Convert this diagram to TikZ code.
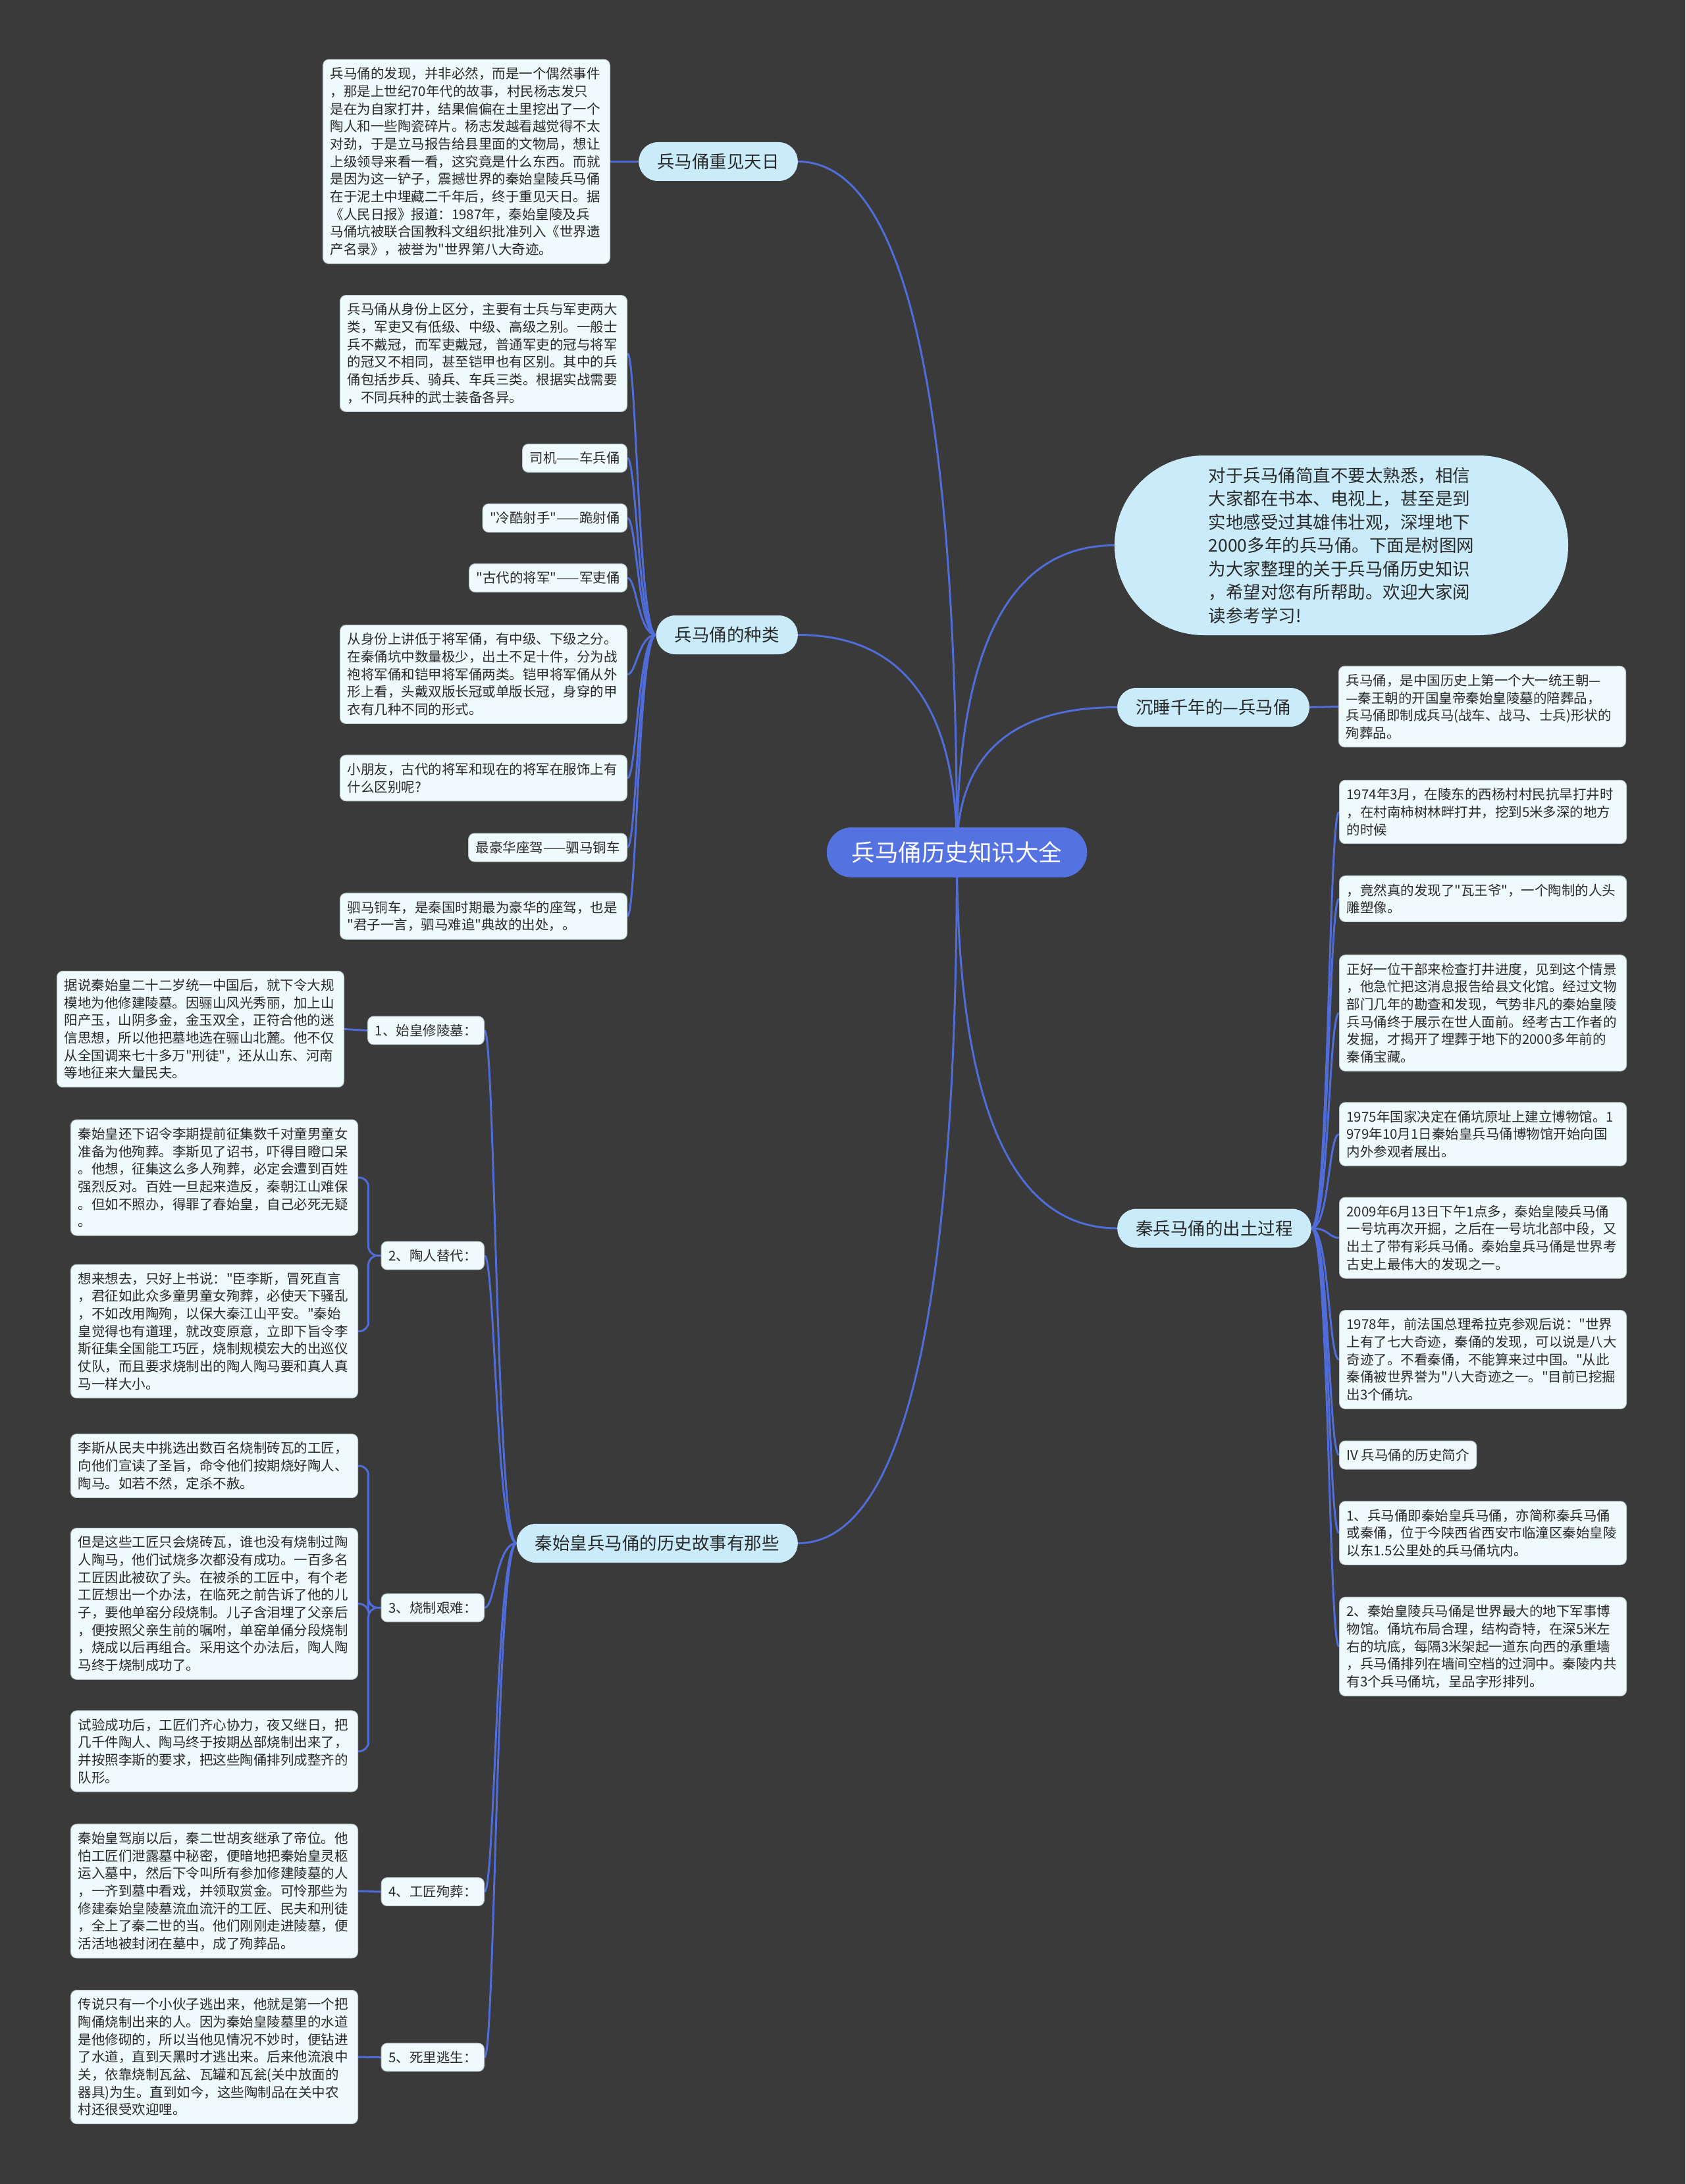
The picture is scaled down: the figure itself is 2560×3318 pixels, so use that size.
\documentclass[tikz,border=0pt]{standalone}
\usepackage{fontspec}
\setmainfont{Noto Sans CJK SC}[Ligatures=TeXOff]
\usetikzlibrary{backgrounds,calc}
\definecolor{bg}{HTML}{3A3A3A}
\definecolor{leaf}{HTML}{EFFAFD}
\definecolor{leafdraw}{HTML}{BCC8CC}
\definecolor{mainfill}{HTML}{C9EBFA}
\definecolor{rootfill}{HTML}{5573E0}
\definecolor{link}{HTML}{4F6CD8}
\definecolor{ink}{HTML}{2A2A2A}
\tikzset{
  leafbox/.style={fill=leaf, draw=leafdraw, line width=1pt, rounded corners=9pt, inner xsep=11pt, inner ysep=12pt, align=left, text=ink, font={\fontsize{20.5}{26.67}\selectfont\parindent=0pt}},
  wideleaf/.style={leafbox, text width=414pt},
  mainbox/.style={fill=mainfill, rounded corners=29pt, inner xsep=28pt, inner ysep=4pt, minimum height=59pt, text=ink, font={\fontsize{26.5}{30}\selectfont}},
  rootbox/.style={fill=rootfill, rounded corners=38pt, inner xsep=38pt, inner ysep=4pt, minimum height=76pt, text=white, font={\fontsize{35.5}{40}\selectfont}},
  bigbox/.style={fill=mainfill, rounded corners=136pt, minimum width=689pt, minimum height=273pt, align=left, text=ink, font={\fontsize{26.5}{35.5}\selectfont}},
  conn/.style={draw=link, line width=3pt},
  quad/.style={to path={.. controls ($(\tikztostart)!0.667!(\tikztostart |- \tikztotarget)$) and ($(\tikztotarget)!0.667!(\tikztostart |- \tikztotarget)$) .. (\tikztotarget)}}
}
\begin{document}
\begin{tikzpicture}[x=1pt,y=-1pt]
\useasboundingbox (0,0) rectangle (2560,3318);
\begin{scope}[on background layer]
\fill[bg] (0,0) rectangle (2560,3318);
\end{scope}

% root and main branches
\node[rootbox] (root) at (1453.5,1295) {兵马俑历史知识大全};
\node[mainbox, anchor=east] (m1) at (1212,245.5) {兵马俑重见天日};
\node[mainbox, anchor=east] (m2) at (1212,964.5) {兵马俑的种类};
\node[mainbox, anchor=east] (m3) at (1212,2344.5) {秦始皇兵马俑的历史故事有那些};
\node[bigbox] (r1) at (2037.5,828.5) {对于兵马俑简直不要太熟悉，相信\\大家都在书本、电视上，甚至是到\\实地感受过其雄伟壮观，深埋地下\\2000多年的兵马俑。下面是树图网\\为大家整理的关于兵马俑历史知识\\，希望对您有所帮助。欢迎大家阅\\读参考学习!};
\node[mainbox, anchor=west] (r2) at (1697,1074.5) {沉睡千年的—兵马俑};
\node[mainbox, anchor=west] (r3) at (1697,1866) {秦兵马俑的出土过程};

% leaf of m1
\node[wideleaf, anchor=east] (l1) at (927,245.5) {兵马俑的发现，并非必然，而是一个偶然事件\\，那是上世纪70年代的故事，村民杨志发只\\是在为自家打井，结果偏偏在土里挖出了一个\\陶人和一些陶瓷碎片。杨志发越看越觉得不太\\对劲，于是立马报告给县里面的文物局，想让\\上级领导来看一看，这究竟是什么东西。而就\\是因为这一铲子，震撼世界的秦始皇陵兵马俑\\在于泥土中埋藏二千年后，终于重见天日。据\\《人民日报》报道：1987年，秦始皇陵及兵\\马俑坑被联合国教科文组织批准列入《世界遗\\产名录》，被誉为"世界第八大奇迹。};

% leaves of m2
\node[wideleaf, anchor=east] (k1) at (953,537) {兵马俑从身份上区分，主要有士兵与军吏两大\\类，军吏又有低级、中级、高级之别。一般士\\兵不戴冠，而军吏戴冠，普通军吏的冠与将军\\的冠又不相同，甚至铠甲也有区别。其中的兵\\俑包括步兵、骑兵、车兵三类。根据实战需要\\，不同兵种的武士装备各异。};
\node[leafbox, anchor=east] (k2) at (953,696) {司机——车兵俑};
\node[leafbox, anchor=east] (k3) at (953,787) {"冷酷射手"——跪射俑};
\node[leafbox, anchor=east] (k4) at (953,878) {"古代的将军"——军吏俑};
\node[wideleaf, anchor=east] (k5) at (953,1024.5) {从身份上讲低于将军俑，有中级、下级之分。\\在秦俑坑中数量极少，出土不足十件，分为战\\袍将军俑和铠甲将军俑两类。铠甲将军俑从外\\形上看，头戴双版长冠或单版长冠，身穿的甲\\衣有几种不同的形式。};
\node[wideleaf, anchor=east] (k6) at (953,1182) {小朋友，古代的将军和现在的将军在服饰上有\\什么区别呢?};
\node[leafbox, anchor=east] (k7) at (953,1287.5) {最豪华座驾——驷马铜车};
\node[wideleaf, anchor=east] (k8) at (953,1392) {驷马铜车，是秦国时期最为豪华的座驾，也是\\"君子一言，驷马难追"典故的出处，。};

% leaf of r2
\node[wideleaf, anchor=west] (s1) at (2033,1073.5) {兵马俑，是中国历史上第一个大一统王朝—\\—秦王朝的开国皇帝秦始皇陵墓的陪葬品，\\兵马俑即制成兵马(战车、战马、士兵)形状的\\殉葬品。};

% leaves of r3
\node[wideleaf, anchor=west] (p1) at (2034,1233.5) {1974年3月，在陵东的西杨村村民抗旱打井时\\，在村南柿树林畔打井，挖到5米多深的地方\\的时候};
\node[wideleaf, anchor=west] (p2) at (2034,1365.5) {，竟然真的发现了"瓦王爷"，一个陶制的人头\\雕塑像。};
\node[wideleaf, anchor=west] (p3) at (2034,1539) {正好一位干部来检查打井进度，见到这个情景\\，他急忙把这消息报告给县文化馆。经过文物\\部门几年的勘查和发现，气势非凡的秦始皇陵\\兵马俑终于展示在世人面前。经考古工作者的\\发掘，才揭开了埋葬于地下的2000多年前的\\秦俑宝藏。};
\node[wideleaf, anchor=west] (p4) at (2034,1723) {1975年国家决定在俑坑原址上建立博物馆。1\\979年10月1日秦始皇兵马俑博物馆开始向国\\内外参观者展出。};
\node[wideleaf, anchor=west] (p5) at (2034,1880.5) {2009年6月13日下午1点多，秦始皇陵兵马俑\\一号坑再次开掘，之后在一号坑北部中段，又\\出土了带有彩兵马俑。秦始皇兵马俑是世界考\\古史上最伟大的发现之一。};
\node[wideleaf, anchor=west] (p6) at (2034,2065.5) {1978年，前法国总理希拉克参观后说："世界\\上有了七大奇迹，秦俑的发现，可以说是八大\\奇迹了。不看秦俑，不能算来过中国。"从此\\秦俑被世界誉为"八大奇迹之一。"目前已挖掘\\出3个俑坑。};
\node[leafbox, anchor=west] (p7) at (2034,2210.5) {IV 兵马俑的历史简介};
\node[wideleaf, anchor=west] (p8) at (2034,2329) {1、兵马俑即秦始皇兵马俑，亦简称秦兵马俑\\或秦俑，位于今陕西省西安市临潼区秦始皇陵\\以东1.5公里处的兵马俑坑内。};
\node[wideleaf, anchor=west] (p9) at (2034,2501.5) {2、秦始皇陵兵马俑是世界最大的地下军事博\\物馆。俑坑布局合理，结构奇特，在深5米左\\右的坑底，每隔3米架起一道东向西的承重墙\\，兵马俑排列在墙间空档的过洞中。秦陵内共\\有3个兵马俑坑，呈品字形排列。};

% sub nodes of m3
\node[leafbox, anchor=east] (t1) at (736,1565.5) {1、始皇修陵墓：};
\node[leafbox, anchor=east] (t2) at (736,1907.5) {2、陶人替代：};
\node[leafbox, anchor=east] (t3) at (736,2442.5) {3、烧制艰难：};
\node[leafbox, anchor=east] (t4) at (736,2874) {4、工匠殉葬：};
\node[leafbox, anchor=east] (t5) at (736,3125.5) {5、死里逃生：};

% their leaves
\node[wideleaf, anchor=east] (q1) at (523,1563.5) {据说秦始皇二十二岁统一中国后，就下令大规\\模地为他修建陵墓。因骊山风光秀丽，加上山\\阳产玉，山阴多金，金玉双全，正符合他的迷\\信思想，所以他把墓地选在骊山北麓。他不仅\\从全国调来七十多万"刑徒"，还从山东、河南\\等地征来大量民夫。};
\node[wideleaf, anchor=east] (q2a) at (544,1789) {秦始皇还下诏令李期提前征集数千对童男童女\\准备为他殉葬。李斯见了诏书，吓得目瞪口呆\\。他想，征集这么多人殉葬，必定会遭到百姓\\强烈反对。百姓一旦起来造反，秦朝江山难保\\。但如不照办，得罪了春始皇，自己必死无疑\\。};
\node[wideleaf, anchor=east] (q2b) at (544,2022.5) {想来想去，只好上书说："臣李斯，冒死直言\\，君征如此众多童男童女殉葬，必使天下骚乱\\，不如改用陶殉，以保大秦江山平安。"秦始\\皇觉得也有道理，就改变原意，立即下旨令李\\斯征集全国能工巧匠，烧制规模宏大的出巡仪\\仗队，而且要求烧制出的陶人陶马要和真人真\\马一样大小。};
\node[wideleaf, anchor=east] (q3a) at (544,2227) {李斯从民夫中挑选出数百名烧制砖瓦的工匠，\\向他们宣读了圣旨，命令他们按期烧好陶人、\\陶马。如若不然，定杀不赦。};
\node[wideleaf, anchor=east] (q3b) at (544,2436.5) {但是这些工匠只会烧砖瓦，谁也没有烧制过陶\\人陶马，他们试烧多次都没有成功。一百多名\\工匠因此被砍了头。在被杀的工匠中，有个老\\工匠想出一个办法，在临死之前告诉了他的儿\\子，要他单窑分段烧制。儿子含泪埋了父亲后\\，便按照父亲生前的嘱咐，单窑单俑分段烧制\\，烧成以后再组合。采用这个办法后，陶人陶\\马终于烧制成功了。};
\node[wideleaf, anchor=east] (q3c) at (544,2660.5) {试验成功后，工匠们齐心协力，夜又继日，把\\几千件陶人、陶马终于按期丛部烧制出来了，\\并按照李斯的要求，把这些陶俑排列成整齐的\\队形。};
\node[wideleaf, anchor=east] (q4) at (544,2873) {秦始皇驾崩以后，秦二世胡亥继承了帝位。他\\怕工匠们泄露墓中秘密，便暗地把秦始皇灵柩\\运入墓中，然后下令叫所有参加修建陵墓的人\\，一齐到墓中看戏，并领取赏金。可怜那些为\\修建秦始皇陵墓流血流汗的工匠、民夫和刑徒\\，全上了秦二世的当。他们刚刚走进陵墓，便\\活活地被封闭在墓中，成了殉葬品。};
\node[wideleaf, anchor=east] (q5) at (544,3125) {传说只有一个小伙子逃出来，他就是第一个把\\陶俑烧制出来的人。因为秦始皇陵墓里的水道\\是他修砌的，所以当他见情况不妙时，便钻进\\了水道，直到天黑时才逃出来。后来他流浪中\\关，依靠烧制瓦盆、瓦罐和瓦瓮(关中放面的\\器具)为生。直到如今，这些陶制品在关中农\\村还很受欢迎哩。};

% connectors
\begin{scope}[on background layer]
\draw[conn] (root.center) to[quad] (m1.east);
\draw[conn] (root.center) to[quad] (m2.east);
\draw[conn] (root.center) to[quad] (m3.east);
\draw[conn] (root.center) to[quad] (r1.west);
\draw[conn] (root.center) to[quad] (r2.west);
\draw[conn] (root.center) to[quad] (r3.west);
\draw[conn] (m1.west) -- (l1.east);
\draw[conn] (r2.east) -- (s1.west);
\foreach \k in {k1,k2,k3,k4,k5,k6,k7,k8}
  \draw[conn] (m2.west) .. controls +(-27,0) and +(14,0) .. (\k.east);
\foreach \p in {p1,p2,p3,p4,p5,p6,p7,p8,p9}
  \draw[conn] (r3.east) .. controls +(27,0) and +(-16,0) .. (\p.west);
\foreach \t in {t1,t2,t3,t4,t5}
  \draw[conn] (m3.west) .. controls +(-31,0) and +(16,0) .. (\t.east);
\draw[conn] (t1.west) -- (q1.east);
\draw[conn, rounded corners=14pt] (t2.west) -- ++(-19,0) |- (q2a.east);
\draw[conn, rounded corners=14pt] (t2.west) -- ++(-19,0) |- (q2b.east);
\draw[conn, rounded corners=14pt] (t3.west) -- ++(-19,0) |- (q3a.east);
\draw[conn, rounded corners=14pt] (t3.west) -- ++(-19,0) |- (q3b.east);
\draw[conn, rounded corners=14pt] (t3.west) -- ++(-19,0) |- (q3c.east);
\draw[conn] (t4.west) -- (q4.east);
\draw[conn] (t5.west) -- (q5.east);
\end{scope}
\end{tikzpicture}
\end{document}
